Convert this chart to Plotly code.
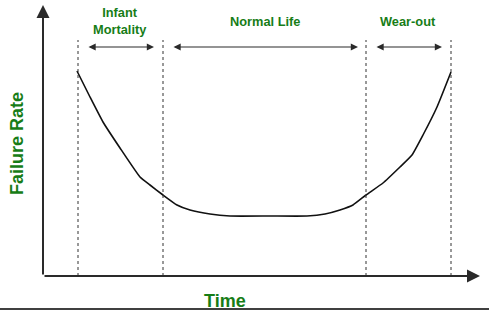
import plotly.graph_objects as go

# Bathtub curve values (time units, failure-rate units; origin at axes corner)
time = [34, 47, 60, 77, 97, 107, 120, 134, 147, 167, 187, 227, 264, 282, 297, 310, 323, 340, 357, 369, 380, 394, 408]
rate = [205, 179, 154, 128, 99, 91, 81, 71, 66, 62, 60, 60, 60, 62, 66, 71, 81, 93, 109, 121, 141, 169, 204]

# Phase boundaries (time units)
boundaries = [35, 120, 323, 408]
phase_labels = ["<b>Infant<br>Mortality</b>", "<b>Normal Life</b>", "<b>Wear-out</b>"]
phase_label_x = [77, 222, 365]
phase_label_y = [255, 255, 255]
phase_arrows = [(44, 111), (129, 315), (332, 399)]
arrow_y = 229
boundary_top = 236
axis_x_end = 437
axis_y_end = 271

GREEN = "#177d17"
DARK = "#2a2a2a"

fig = go.Figure()
fig.add_trace(go.Scatter(x=time, y=rate, mode="lines",
                         line=dict(color="#111111", width=1.6, shape="spline", smoothing=0.4),
                         hoverinfo="skip", showlegend=False))

shapes = []
for b in boundaries:
    shapes.append(dict(type="line", xref="x", yref="y", x0=b, x1=b, y0=0, y1=boundary_top,
                       line=dict(color="#333333", width=1, dash="dot")))
# bottom border line
shapes.append(dict(type="line", xref="paper", yref="y", x0=0, x1=1, y0=-33, y1=-33,
                   line=dict(color="#000000", width=1.5)))

annotations = []
# axes with arrows
annotations.append(dict(x=0, y=axis_y_end, ax=0, ay=0, xref="x", yref="y", axref="x", ayref="y",
                        text="", showarrow=True, arrowhead=2, arrowsize=1.3, arrowwidth=2, arrowcolor=DARK))
annotations.append(dict(x=axis_x_end, y=0, ax=0, ay=0, xref="x", yref="y", axref="x", ayref="y",
                        text="", showarrow=True, arrowhead=2, arrowsize=1.3, arrowwidth=2, arrowcolor=DARK))
# double-headed phase arrows
for a0, a1 in phase_arrows:
    annotations.append(dict(x=a1, y=arrow_y, ax=a0, ay=arrow_y, xref="x", yref="y", axref="x", ayref="y",
                            text="", showarrow=True, arrowhead=2, startarrowhead=2, arrowside="end+start",
                            arrowsize=1.2, startarrowsize=1.2, arrowwidth=1.2, arrowcolor=DARK))
for lab, lx, ly in zip(phase_labels, phase_label_x, phase_label_y):
    annotations.append(dict(x=lx, y=ly, xref="x", yref="y", text=lab, showarrow=False,
                            font=dict(family="Arial, Liberation Sans", size=12.8, color=GREEN)))
annotations.append(dict(x=-26, y=132, xref="x", yref="y", text="<b>Failure Rate</b>", textangle=-90,
                        showarrow=False, font=dict(family="Arial, Liberation Sans", size=18, color=GREEN)))
annotations.append(dict(x=182, y=-25, xref="x", yref="y", text="<b>Time</b>",
                        showarrow=False, font=dict(family="Arial, Liberation Sans", size=18, color=GREEN)))

fig.update_layout(
    width=489, height=311,
    margin=dict(l=0, r=0, t=0, b=0),
    paper_bgcolor="white", plot_bgcolor="white",
    xaxis=dict(range=[-43, 446], visible=False, fixedrange=True),
    yaxis=dict(range=[-35, 276], visible=False, fixedrange=True),
    shapes=shapes, annotations=annotations,
)

fig.write_html("out.html")
